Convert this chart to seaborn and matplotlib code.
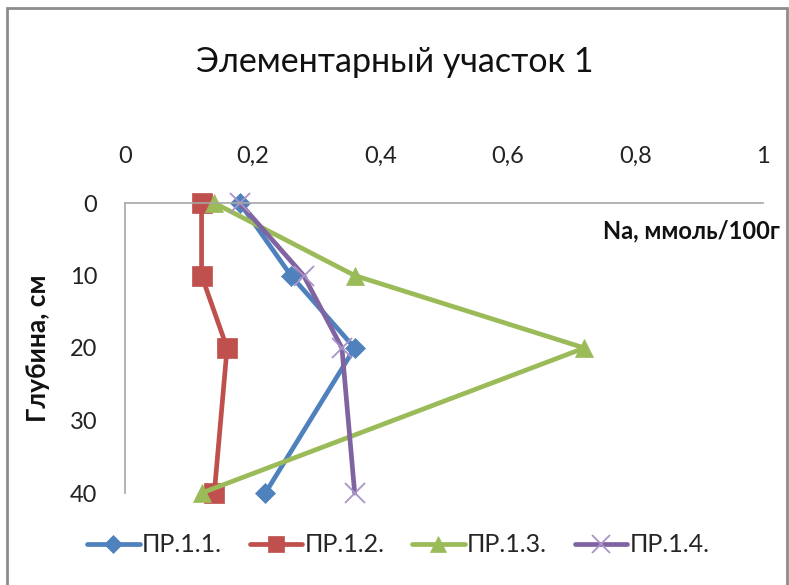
import matplotlib
matplotlib.use("Agg")
import matplotlib.pyplot as plt
import seaborn as sns
import pandas as pd
from matplotlib.lines import Line2D
from matplotlib.patches import Rectangle
from matplotlib.ticker import FuncFormatter

# Depth profile of sodium content, elementary plot 1
depth = [0, 10, 20, 40]
pr_1_1 = [0.18, 0.26, 0.36, 0.22]
pr_1_2 = [0.12, 0.12, 0.16, 0.14]
pr_1_3 = [0.14, 0.36, 0.72, 0.12]
pr_1_4 = [0.18, 0.28, 0.34, 0.36]
series_names = ["ПР.1.1.", "ПР.1.2.", "ПР.1.3.", "ПР.1.4."]
x_ticks = [0, 0.2, 0.4, 0.6, 0.8, 1]
y_ticks = [0, 10, 20, 30, 40]

colors = ["#4F81BD", "#C0504D", "#9BBB59", "#8064A2"]
markers = ["D", "s", "^", "x"]
msizes = [10.5, 14, 13, 15]
x_edge = "#A994C8"

sns.set_theme(style="white")
plt.rcParams["font.family"] = ["Lato", "DejaVu Sans"]

fig = plt.figure(figsize=(7.89, 5.85), dpi=100)
ax = fig.add_axes([125 / 789, 1 - 493 / 585, 638 / 789, 290 / 585])

for name, vals, c, m, ms in zip(series_names, [pr_1_1, pr_1_2, pr_1_3, pr_1_4],
                                colors, markers, msizes):
    df = pd.DataFrame({"depth": depth, "na": vals})
    sns.lineplot(data=df, x="na", y="depth", sort=False, estimator=None,
                 color=c, linewidth=3.4, marker=m, markersize=ms,
                 markerfacecolor=c,
                 markeredgecolor=(x_edge if m == "x" else c),
                 markeredgewidth=(1.3 if m == "x" else 0.5),
                 solid_joinstyle="round", clip_on=False, ax=ax)

ax.set_xlim(0, 1)
ax.set_ylim(40, 0)
ax.set_xticks(x_ticks)
ax.set_yticks(y_ticks)
ax.xaxis.set_major_formatter(FuncFormatter(lambda v, p: ("%g" % v).replace(".", ",")))
ax.xaxis.tick_top()
ax.tick_params(axis="x", length=0, pad=26, labelsize=17, colors="#222222")
ax.tick_params(axis="y", length=0, pad=20, labelsize=17, colors="#222222")

for s in ["right", "bottom"]:
    ax.spines[s].set_visible(False)
for s in ["left", "top"]:
    ax.spines[s].set_color("#A6A6A6")
    ax.spines[s].set_linewidth(1.2)

ax.set_xlabel("")
ax.set_ylabel("Глубина, см", fontsize=19, fontweight="bold", color="#111111")
ax.yaxis.set_label_coords(-0.118, 0.5)
ax.text(1.027, 0.905, "Na, ммоль/100г", transform=ax.transAxes,
        ha="right", va="center", fontsize=17, fontweight="bold", color="#111111")

fig.text(0.5, 1 - 62 / 585, "Элементарный участок 1", ha="center", va="center",
         fontsize=24.5, color="#111111")

handles = [Line2D([0], [0], color=c, marker=m, markersize=ms * 0.85, linewidth=3.4,
                  markerfacecolor=c,
                  markeredgecolor=(x_edge if m == "x" else c),
                  markeredgewidth=(1.3 if m == "x" else 0.5))
           for c, m, ms in zip(colors, markers, msizes)]
fig.legend(handles, series_names, loc="center", bbox_to_anchor=(0.505, 1 - 545 / 585),
           ncol=4, frameon=False, fontsize=18, handlelength=2.1, handletextpad=0.1,
           columnspacing=1.1)

fig.patches.append(Rectangle((7 / 789, -0.02), 780 / 789, 1.02 - 8 / 585,
                             transform=fig.transFigure, fill=False,
                             edgecolor="#8C8C8C", linewidth=2))

fig.savefig("out.png", dpi=100)
